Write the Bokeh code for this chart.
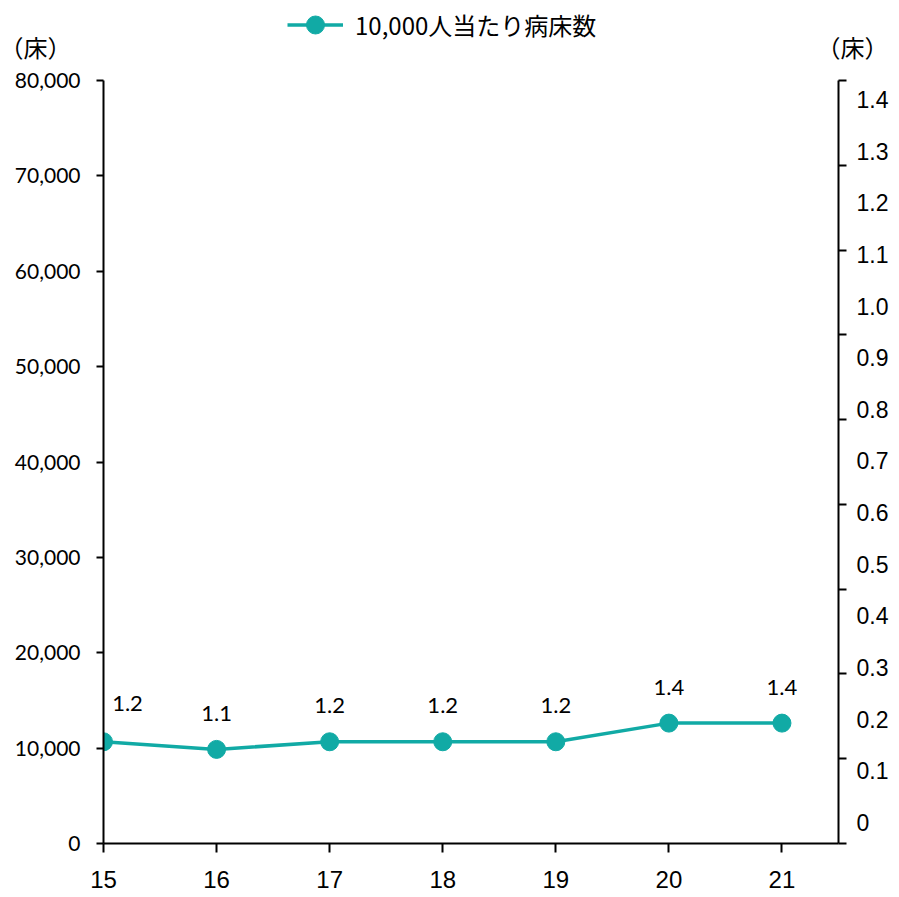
import numpy as np
from bokeh.plotting import figure
from bokeh.layouts import column
from bokeh.models import (Range1d, LinearAxis, FixedTicker, NumeralTickFormatter,
                          Legend, LegendItem, Label, ColumnDataSource)
from bokeh.embed import file_html
from bokeh.resources import INLINE
from bokeh.core.properties import value

# ---- data ----
years = [15, 16, 17, 18, 19, 20, 21]
beds_per_10k = [1.20, 1.11, 1.20, 1.20, 1.20, 1.42, 1.42]
left_ticks = [0, 10000, 20000, 30000, 40000, 50000, 60000, 70000, 80000]
right_unit_ticks = [0, 1, 2, 3, 4, 5, 6, 7, 8, 9]
right_label_values = [0, 0.1, 0.2, 0.3, 0.4, 0.5, 0.6, 0.7, 0.8, 0.9, 1, 1.1, 1.2, 1.3, 1.4]
right_label_texts = ["0", "0.1", "0.2", "0.3", "0.4", "0.5", "0.6", "0.7", "0.8", "0.9",
                     "1.0", "1.1", "1.2", "1.3", "1.4"]
legend_label = "10,000人当たり病床数"
unit_text = "（床）"

COLOR = "#11AAA5"
JP = "Noto Sans CJK JP"
NUM = "Lato"
ARIAL = "Liberation Sans"
W = 891
TOP_H = 66

# ---------- header strip (legend + units) ----------
top = figure(width=W, height=TOP_H, output_backend="svg", toolbar_location=None,
             x_range=Range1d(0, W), y_range=Range1d(TOP_H, 0),
             x_axis_location=None, y_axis_location=None,
             min_border=0, min_border_left=0, min_border_right=0,
             min_border_top=0, min_border_bottom=0)
top.frame_align = False
top.xgrid.visible = False
top.ygrid.visible = False
top.outline_line_color = None
nan_src = ColumnDataSource(dict(x=np.array([np.nan]), y=np.array([np.nan])))
lg_line = top.line("x", "y", source=nan_src, line_color=COLOR, line_width=3.5)
lg_dot = top.scatter("x", "y", source=nan_src, size=18, fill_color=COLOR, line_color=COLOR)
legend = Legend(items=[LegendItem(label=legend_label, renderers=[lg_line, lg_dot])],
                location=(287, 19), glyph_width=56, glyph_height=45,
                label_text_font=JP, label_text_font_size="24px", label_text_color="black",
                label_standoff=12, padding=0, margin=0, spacing=0,
                background_fill_alpha=0, border_line_color=None)
top.add_layout(legend)
for xx in (35, 852):
    top.add_layout(Label(x=xx, y=46, text=unit_text,
                         text_align="center", text_baseline="middle",
                         text_font=JP, text_font_size="24px", text_color="black"))

# ---------- main chart ----------
p = figure(width=W, height=897 - TOP_H, output_backend="svg", toolbar_location=None,
           x_range=Range1d(15, 21.5), y_range=Range1d(0, 80000),
           min_border_left=103, min_border_right=51, min_border_top=14, min_border_bottom=54)
p.frame_align = False
p.xgrid.visible = False
p.ygrid.visible = False
p.outline_line_color = None
p.extra_y_ranges = {"unit": Range1d(0, 9), "lbl": Range1d(-0.041, 1.437)}

ya = p.yaxis[0]
ya.ticker = FixedTicker(ticks=left_ticks)
ya.formatter = NumeralTickFormatter(format="0,0")
ya.major_tick_out = 7
ya.major_tick_in = 0
ya.minor_tick_line_color = None
ya.axis_line_width = 2
ya.major_tick_line_width = 2
ya.major_label_standoff = 16
ya.major_label_text_font = NUM
ya.major_label_text_font_size = "21px"
ya.major_label_text_color = "black"

xa = p.xaxis[0]
xa.ticker = FixedTicker(ticks=years)
xa.major_tick_out = 9
xa.major_tick_in = 0
xa.minor_tick_line_color = None
xa.axis_line_width = 2
xa.major_tick_line_width = 2
xa.major_label_standoff = 18
xa.major_label_text_font = ARIAL
xa.major_label_text_font_size = "24px"
xa.major_label_text_color = "black"

ax1 = LinearAxis(y_range_name="unit", ticker=FixedTicker(ticks=right_unit_ticks),
                 major_tick_out=8, major_tick_in=0, minor_tick_line_color=None,
                 axis_line_width=2, major_tick_line_width=2,
                 major_label_standoff=0, major_label_text_font_size="1px",
                 major_label_overrides={t: "" for t in right_unit_ticks})
p.add_layout(ax1, "right")

ax2 = LinearAxis(y_range_name="lbl", ticker=FixedTicker(ticks=right_label_values),
                 axis_line_color=None, major_tick_line_color=None, minor_tick_line_color=None,
                 major_tick_out=0, major_tick_in=0,
                 major_label_standoff=10, major_label_text_font=ARIAL,
                 major_label_text_font_size="23px", major_label_text_color="black",
                 major_label_overrides=dict(zip(right_label_values, right_label_texts)))
p.add_layout(ax2, "right")

src = ColumnDataSource(dict(x=years, y=beds_per_10k))
p.line("x", "y", source=src, y_range_name="unit", line_color=COLOR, line_width=3.5)
p.scatter("x", "y", source=src, y_range_name="unit", size=18,
          fill_color=COLOR, line_color=COLOR)

first = ColumnDataSource(dict(x=years[:1], y=beds_per_10k[:1],
                              t=[f"{v:.1f}" for v in beds_per_10k[:1]]))
rest = ColumnDataSource(dict(x=years[1:], y=beds_per_10k[1:],
                             t=[f"{v:.1f}" for v in beds_per_10k[1:]]))
p.text("x", "y", text="t", source=first, y_range_name="unit", x_offset=24, y_offset=-38,
       text_align="center", text_baseline="middle", text_font=value(NUM),
       text_font_size="22px", text_color="black")
p.text("x", "y", text="t", source=rest, y_range_name="unit", y_offset=-36,
       text_align="center", text_baseline="middle", text_font=value(NUM),
       text_font_size="22px", text_color="black")

layout = column(top, p, spacing=0)
open("out.html", "w").write(file_html(layout, INLINE))
